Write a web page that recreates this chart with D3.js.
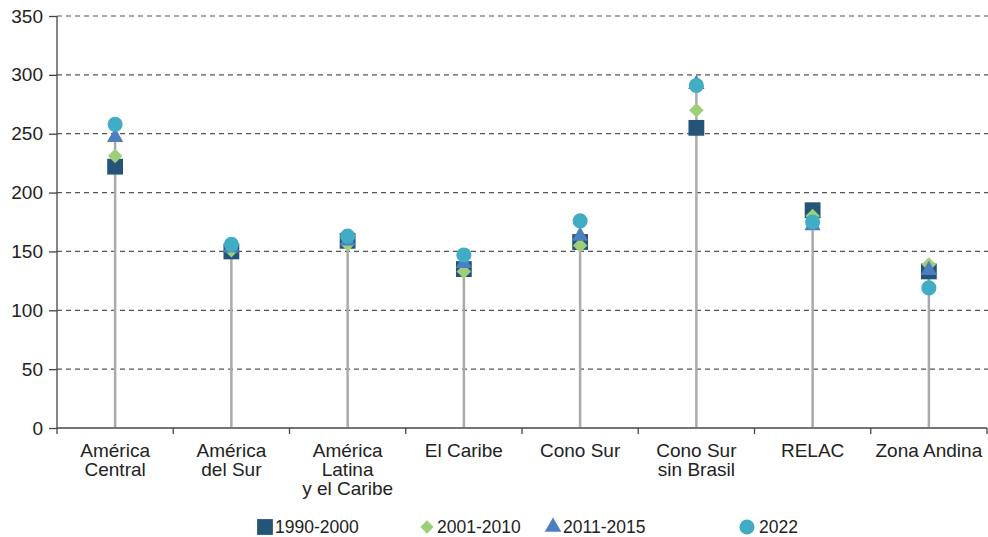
<!DOCTYPE html>
<html>
<head>
<meta charset="utf-8">
<script src="https://cdn.jsdelivr.net/npm/d3@7"></script>
<style>
  body { margin: 0; background: #fff; }
  svg { display: block; font-family: "Liberation Sans", Arial, sans-serif; }
  .grid line { stroke: #555; stroke-dasharray: 5 4; stroke-width: 1.2; }
  .axis path, .axis line { stroke: #444; stroke-width: 1.3; }
  .axis text { fill: #222; font-size: 19px; }
  .stem { stroke: #aaa; stroke-width: 2.5; }
  .legend text { fill: #222; font-size: 17.5px; }
</style>
</head>
<body>
<svg id="chart"></svg>
<script>
// categories (\n = line break in the label)
var categories = ["América\nCentral", "América\ndel Sur", "América\nLatina\ny el Caribe", "El Caribe",
                  "Cono Sur", "Cono Sur\nsin Brasil", "RELAC", "Zona Andina"];
var seriesNames = ["1990-2000", "2001-2010", "2011-2015", "2022"];
var v1990 = [222, 150, 159, 135, 158, 255, 185, 133];
var v2001 = [231, 151, 156, 133, 155, 270, 180, 139];
var v2011 = [247, 153, 159, 140, 163, 292, 172, 134];
var v2022 = [258, 156, 163, 147, 176, 291, 175, 119];
var yTicks = [0, 50, 100, 150, 200, 250, 300, 350];

var width = 988, height = 537;
var margin = {top: 16, left: 57, right: 1, bottom: 109};
var colors = ["#255479", "#9ccf78", "#4b7fc0", "#41adc5"];

var svg = d3.select("#chart").attr("width", width).attr("height", height);

var x = d3.scaleBand().domain(categories).range([margin.left, width - margin.right]);
var y = d3.scaleLinear().domain([0, 350]).range([height - margin.bottom, margin.top]);

// dashed gridlines
svg.append("g").attr("class", "grid")
  .selectAll("line")
  .data(yTicks.filter(function(d) { return d > 0; }))
  .enter().append("line")
    .attr("x1", margin.left).attr("x2", width)
    .attr("y1", function(d) { return y(d); })
    .attr("y2", function(d) { return y(d); });

// y axis
var yAxis = svg.append("g").attr("class", "axis")
  .attr("transform", "translate(" + margin.left + ",0)")
  .call(d3.axisLeft(y).tickValues(yTicks).tickSize(8).tickPadding(6).tickSizeOuter(0));
yAxis.select(".domain").attr("d", "M0," + y(350) + "V" + y(0));

// x axis: ticks at band boundaries
var xg = svg.append("g").attr("class", "axis")
  .attr("transform", "translate(0," + y(0) + ")");
xg.append("line").attr("x1", margin.left).attr("x2", width - margin.right).attr("y1", 0).attr("y2", 0);
var bounds = categories.map(function(c) { return x(c); }).concat([x(categories[categories.length - 1]) + x.bandwidth()]);
xg.selectAll(".btick").data(bounds).enter().append("line")
  .attr("class", "btick")
  .attr("x1", function(d) { return d; }).attr("x2", function(d) { return d; })
  .attr("y1", 0).attr("y2", 6);

var labels = xg.selectAll(".xlab").data(categories).enter().append("text")
  .attr("class", "xlab")
  .attr("text-anchor", "middle")
  .attr("x", function(d) { return x(d) + x.bandwidth() / 2; })
  .attr("y", 29);
labels.selectAll("tspan").data(function(d) { return d.split("\n"); })
  .enter().append("tspan")
    .attr("x", function() { return d3.select(this.parentNode).attr("x"); })
    .attr("dy", function(d, i) { return i === 0 ? 0 : 19; })
    .text(function(d) { return d; });

// stems from 0 to the highest value
var all = [v1990, v2001, v2011, v2022];
svg.append("g").selectAll(".stem")
  .data(categories)
  .enter().append("line")
    .attr("class", "stem")
    .attr("x1", function(d) { return x(d) + x.bandwidth() / 2; })
    .attr("x2", function(d) { return x(d) + x.bandwidth() / 2; })
    .attr("y1", y(0) - 1)
    .attr("y2", function(d, i) { return y(d3.max(all, function(s) { return s[i]; })); });

// markers
var shapes = [
  {type: d3.symbolSquare, size: 250, rot: 0},
  {type: d3.symbolSquare, size: 105, rot: 45},
  {type: d3.symbolTriangle, size: 115, rot: 0},
  {type: d3.symbolCircle, size: 180, rot: 0}
];

all.forEach(function(series, si) {
  svg.append("g").selectAll("path")
    .data(series)
    .enter().append("path")
      .attr("d", d3.symbol().type(shapes[si].type).size(shapes[si].size))
      .attr("fill", colors[si])
      .attr("transform", function(d, i) {
        return "translate(" + (x(categories[i]) + x.bandwidth() / 2) + "," + y(d) + ") rotate(" + shapes[si].rot + ")";
      });
});

// legend
var legendX = [265, 427, 553, 747];
var lg = svg.append("g").attr("class", "legend");
seriesNames.forEach(function(name, i) {
  var sz = [250, 90, 120, 180][i];
  lg.append("path")
    .attr("d", d3.symbol().type(shapes[i].type).size(sz))
    .attr("fill", colors[i])
    .attr("transform", "translate(" + legendX[i] + ",527) rotate(" + shapes[i].rot + ")");
  lg.append("text")
    .attr("x", legendX[i] + (i === 3 ? 12 : 10))
    .attr("y", 533)
    .text(name);
});
</script>
</body>
</html>
